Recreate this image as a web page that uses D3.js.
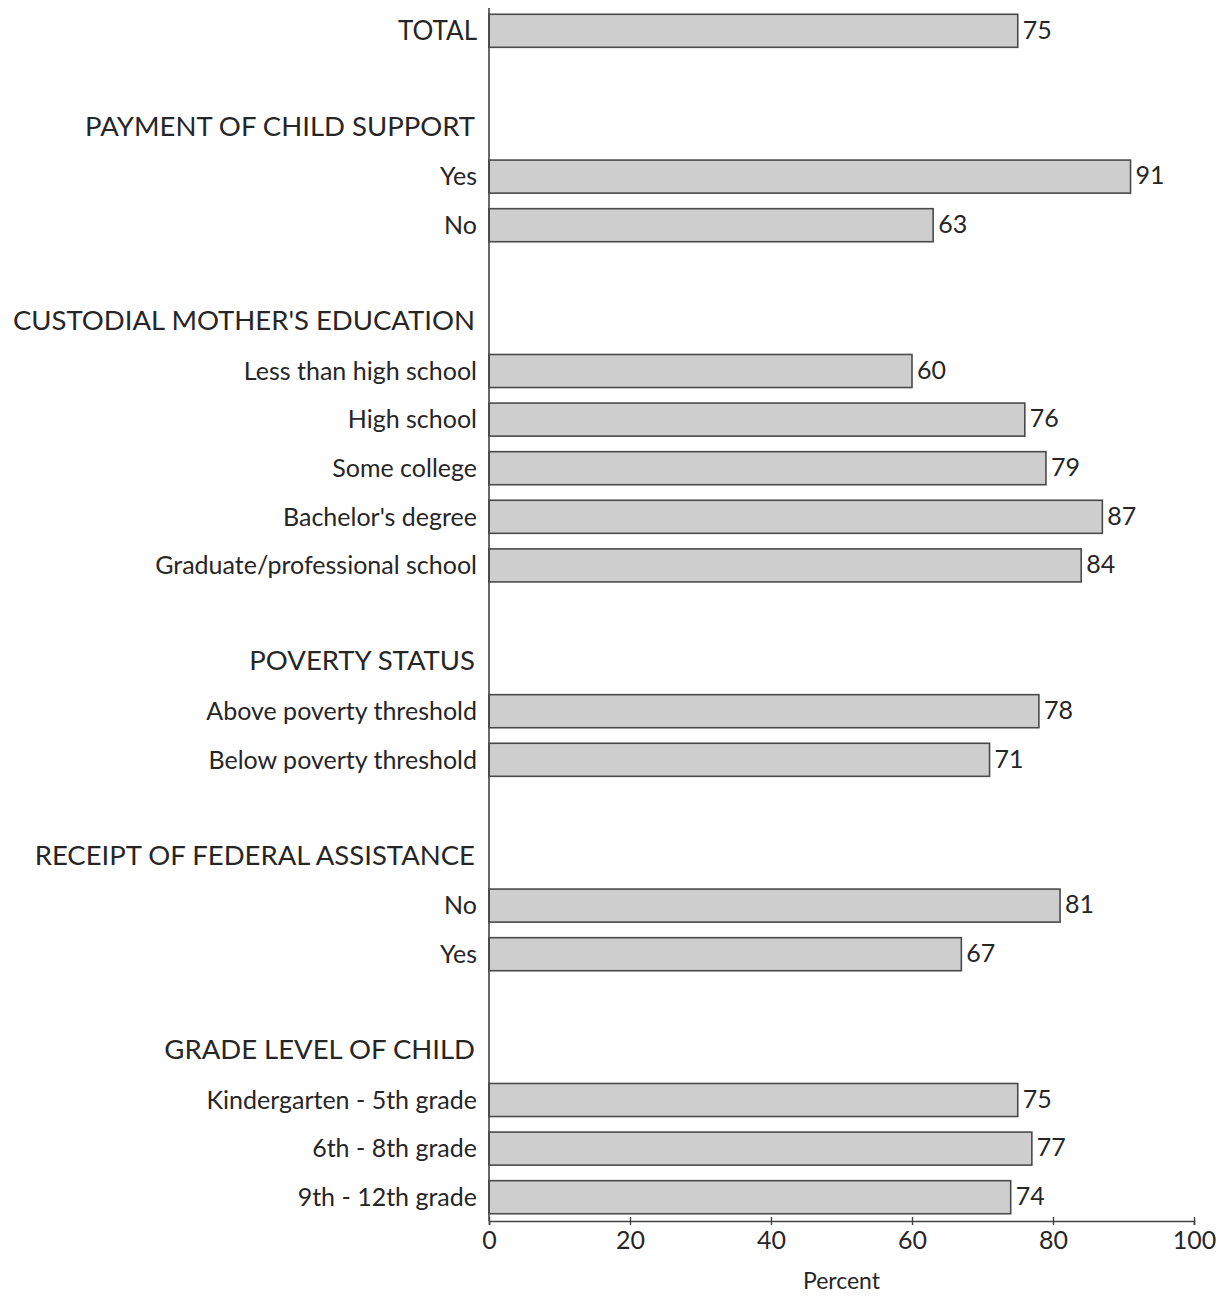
<!DOCTYPE html>
<html>
<head>
<meta charset="utf-8">
<script src="https://cdn.jsdelivr.net/npm/d3@7"></script>
<style>
  body { margin: 0; background: #fff; }
  text { font-family: Lato, "Open Sans", sans-serif; fill: #262626; }
</style>
</head>
<body>
<div id="chart"></div>
<script>
// data
const totalLabel = "TOTAL"
const totalValue = [75]

const sectionTitles = [
  "PAYMENT OF CHILD SUPPORT",
  "CUSTODIAL MOTHER'S EDUCATION",
  "POVERTY STATUS",
  "RECEIPT OF FEDERAL ASSISTANCE",
  "GRADE LEVEL OF CHILD"
]

const supportCats = ["Yes", "No"]
const supportVals = [91, 63]

const educationCats = ["Less than high school", "High school", "Some college", "Bachelor's degree", "Graduate/professional school"]
const educationVals = [60, 76, 79, 87, 84]

const povertyCats = ["Above poverty threshold", "Below poverty threshold"]
const povertyVals = [78, 71]

const assistanceCats = ["No", "Yes"]
const assistanceVals = [81, 67]

const gradeCats = ["Kindergarten - 5th grade", "6th - 8th grade", "9th - 12th grade"]
const gradeVals = [75, 77, 74]

const xTicks = [0, 20, 40, 60, 80, 100]

const sections = [
  [supportCats, supportVals],
  [educationCats, educationVals],
  [povertyCats, povertyVals],
  [assistanceCats, assistanceVals],
  [gradeCats, gradeVals]
]

// build rows: bar rows, header rows and blank spacer rows
const rows = [{ type: 'bar', label: totalLabel, value: totalValue[0] }, { type: 'blank' }]
sections.forEach(([cats, vals], s) => {
  rows.push({ type: 'header', label: sectionTitles[s] })
  cats.forEach((c, i) => rows.push({ type: 'bar', label: c, value: vals[i] }))
  if (s < sections.length - 1) rows.push({ type: 'blank' })
})
rows.forEach((d, i) => d.id = i)

const W = 1228, H = 1296
const axisX = 489, axisY = 1221

const svg = d3.select("#chart").append("svg")
  .attr("width", W)
  .attr("height", H)

const x = d3.scaleLinear()
  .domain([0, 100])
  .range([axisX, 1194])

const y = d3.scaleBand()
  .domain(rows.map(d => d.id))
  .range([6.5, 1221.5])
  .paddingInner(0.32)
  .paddingOuter(0.16)

const bars = rows.filter(d => d.type == 'bar')
const headers = rows.filter(d => d.type == 'header')

svg.selectAll('rect.bar')
  .data(bars)
  .enter()
  .append('rect')
  .attr('class', 'bar')
  .attr('x', x(0))
  .attr('y', d => y(d.id))
  .attr('width', d => x(d.value) - x(0))
  .attr('height', y.bandwidth())
  .attr('fill', '#cecece')
  .attr('stroke', '#4a4a4a')
  .attr('stroke-width', 1.6)

// value labels
svg.selectAll('text.val')
  .data(bars)
  .enter()
  .append('text')
  .attr('class', 'val')
  .attr('x', d => x(d.value) + 5)
  .attr('y', d => y(d.id) + y.bandwidth() / 2 - 1)
  .attr('dy', '0.35em')
  .style('font-size', '25px')
  .text(d => d.value)

// category labels
svg.selectAll('text.cat')
  .data(bars)
  .enter()
  .append('text')
  .attr('class', 'cat')
  .attr('x', axisX - 12)
  .attr('y', d => y(d.id) + y.bandwidth() / 2)
  .attr('dy', '0.35em')
  .attr('text-anchor', 'end')
  .style('font-size', d => d.label == totalLabel ? '26px' : '25px')
  .text(d => d.label)

svg.selectAll('text.head')
  .data(headers)
  .enter()
  .append('text')
  .attr('class', 'head')
  .attr('x', axisX - 14)
  .attr('y', d => y(d.id) + y.bandwidth() / 2 - 2)
  .attr('dy', '0.35em')
  .attr('text-anchor', 'end')
  .style('font-size', '27.5px')
  .text(d => d.label)

// vertical axis line
svg.append('line')
  .attr('x1', axisX).attr('x2', axisX)
  .attr('y1', 8).attr('y2', axisY)
  .attr('stroke', '#444')
  .attr('stroke-width', 1.6)

const xAxis = d3.axisBottom(x)
  .tickValues(xTicks)
  .tickSize(4)
  .tickPadding(6)

const gx = svg.append('g')
  .attr('transform', `translate(0, ${axisY})`)
  .call(xAxis)

gx.select('.domain').attr('stroke', '#444').attr('stroke-width', 1.6)
gx.selectAll('.tick line').attr('stroke', '#444').attr('stroke-width', 1.4).attr('y1', -4)
gx.selectAll('text')
  .style('font-size', '25px')
  .style('font-family', 'Lato, sans-serif')
  .attr('fill', '#262626')

svg.append('text')
  .attr('x', x(50))
  .attr('y', 1289)
  .attr('text-anchor', 'middle')
  .style('font-size', '23px')
  .text('Percent')
</script>
</body>
</html>
